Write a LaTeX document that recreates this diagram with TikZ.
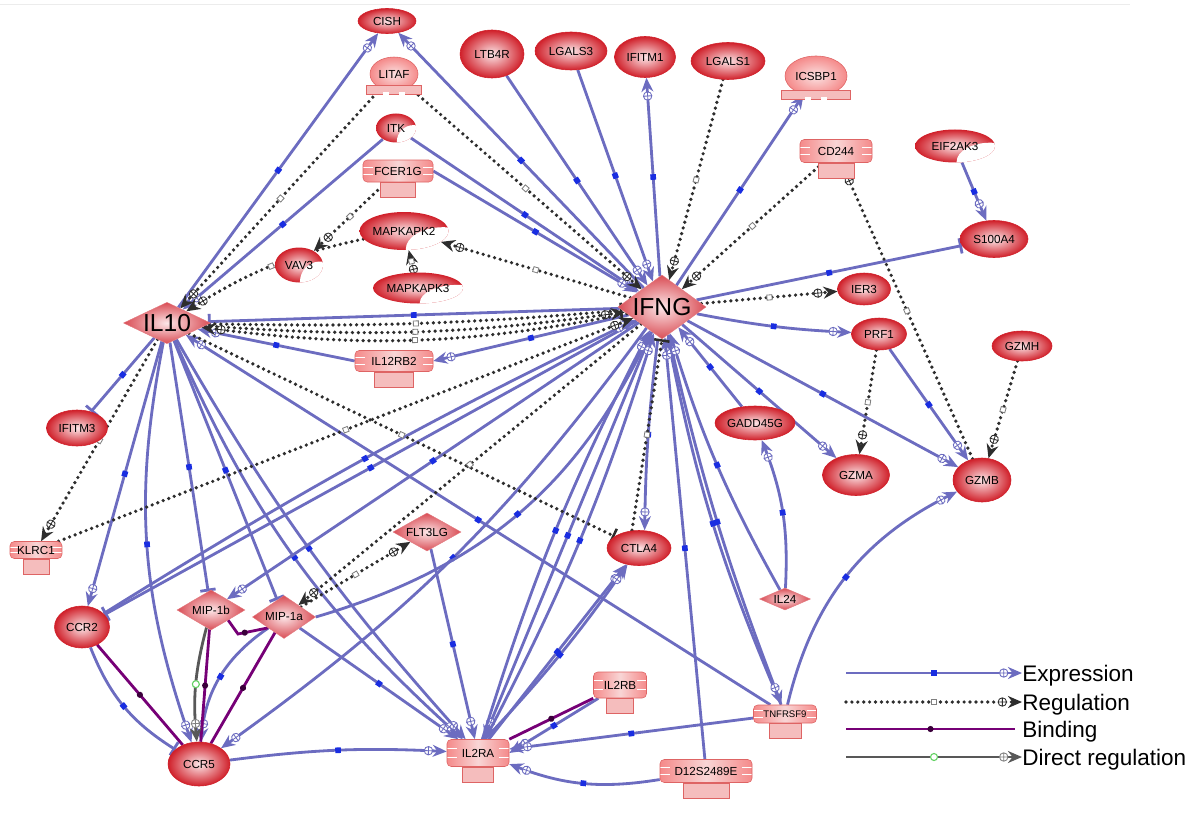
\documentclass[tikz,border=0pt]{standalone}
\usepackage{fontspec}
\setmainfont{Liberation Sans}
\usepackage{tikz}
\usetikzlibrary{shapes.geometric, arrows.meta, decorations.markings, backgrounds, calc}

\definecolor{genered}{RGB}{208,32,42}
\definecolor{genepink}{RGB}{252,230,232}
\definecolor{recpink}{RGB}{242,172,172}
\definecolor{recline}{RGB}{222,100,100}
\definecolor{expblue}{RGB}{108,108,192}
\definecolor{sqblue}{RGB}{25,45,225}
\definecolor{regdark}{RGB}{45,45,45}
\definecolor{bindpurple}{RGB}{118,0,118}
\definecolor{dirgray}{RGB}{88,88,88}
\definecolor{dirgreen}{RGB}{100,210,100}

% small marks sitting on the connectors
\newcommand{\sqexp}{\fill[sqblue] (-2pt,-2pt) rectangle (2pt,2pt);}
\newcommand{\sqreg}{\draw[-, solid, gray, line width=0.6pt, fill=white] (-1.8pt,-1.8pt) rectangle (1.8pt,1.8pt);}
\newcommand{\plusexp}{\draw[-, solid, expblue, line width=0.6pt, fill=white] (0,0) circle (3pt) (-3pt,0) -- (3pt,0) (0,-3pt) -- (0,3pt);}
\newcommand{\plusreg}{\draw[-, solid, regdark, line width=0.6pt, fill=white] (0,0) circle (3pt) (-3pt,0) -- (3pt,0) (0,-3pt) -- (0,3pt);}
\newcommand{\plusdir}{\draw[-, solid, gray, line width=0.6pt, fill=white] (0,0) circle (3pt) (-3pt,0) -- (3pt,0) (0,-3pt) -- (0,3pt);}
\newcommand{\dotbind}{\fill[bindpurple!50!black] (0,0) circle (2.2pt);}
\newcommand{\dotdir}{\draw[-, solid, dirgreen, line width=0.8pt, fill=white] (0,0) circle (2.5pt);}

\tikzset{sz/.style 2 args={minimum width=#1*0.025cm, minimum height=#2*0.025cm}}

\tikzstyle{gene} = [ellipse, inner sep=0pt, draw=genered, line width=0.4pt,
inner color=genepink, outer color=genered]
\tikzstyle{ligand} = [diamond, aspect=1.8, inner sep=0pt,
draw=genered!60, line width=0.3pt,
inner color=genepink, outer color=genered!80]
\tikzstyle{kinase} = [ellipse, inner sep=0pt,
inner color=genepink, outer color=genered,
path picture={\path[fill=white] let
  \p1=(path picture bounding box.south east),
  \p2=(path picture bounding box.north west) in
  ({\x1-0.06*(\x1-\x2)},{\y1+0.02*(\y2-\y1)})
  ellipse [x radius={0.42*(\x1-\x2)}, y radius={0.58*(\y2-\y1)}];}]
\tikzstyle{recep} = [rectangle, rounded corners=3pt, inner sep=0pt,
draw=recline, line width=0.4pt,
left color=recpink!80!red, right color=recpink!80!red, middle color=recpink!50!white,
path picture={\foreach \f in {0.33,0.67} {
  \draw[white, line width=0.7pt] ($(path picture bounding box.south west)!\f!(path picture bounding box.north west)$) -- ++(7pt,0);
  \draw[white, line width=0.7pt] ($(path picture bounding box.south east)!\f!(path picture bounding box.north east)$) -- ++(-7pt,0);}}]
\tikzstyle{recbase} = [draw=recline, line width=0.4pt, fill=recpink!80!white]
\tikzstyle{dome} = [ellipse, inner sep=0pt, draw=recline, line width=0.4pt,
inner color=recpink!35!white, outer color=recpink!80!red]
\tikzstyle{legtext} = [anchor=west, inner sep=0pt, text height=11.5pt, text depth=0pt,
font=\fontsize{16}{18}\selectfont]

\tikzstyle{expr} = [draw=expblue, line width=2pt, -{Stealth[length=10pt, width=8.5pt]},
postaction={decorate, decoration={markings,
  mark=at position 0.5 with {\sqexp},
  mark=at position -13pt with {\plusexp}}}]
\tikzstyle{exprbar} = [draw=expblue, line width=2pt, -{Bar[width=11pt]},
postaction={decorate, decoration={markings,
  mark=at position 0.5 with {\sqexp}}}]
\tikzstyle{reg} = [draw=regdark, line width=2.6pt, line cap=round, dash pattern=on 0pt off 4.2pt,
-{Stealth[length=10pt, width=8.5pt]},
postaction={decorate, decoration={markings,
  mark=at position 0.5 with {\sqreg},
  mark=at position -14pt with {\plusreg}}}]
\tikzstyle{regbar} = [draw=regdark, line width=2.6pt, line cap=round, dash pattern=on 0pt off 4.2pt,
-{Bar[width=11pt, line width=1.8pt]},
postaction={decorate, decoration={markings,
  mark=at position 0.5 with {\sqreg}}}]
\tikzstyle{bind} = [draw=bindpurple, line width=2pt,
postaction={decorate, decoration={markings,
  mark=at position 0.5 with {\dotbind}}}]
\tikzstyle{direct} = [draw=dirgray, line width=2pt, -{Stealth[length=10pt, width=8.5pt]},
postaction={decorate, decoration={markings,
  mark=at position 0.5 with {\dotdir},
  mark=at position -13pt with {\plusdir}}}]

\begin{document}
\begin{tikzpicture}[x=0.025cm, y=-0.025cm, font=\fontsize{8.3}{9}\selectfont]
\useasboundingbox (0,0) rectangle (1200,814);
\draw[gray!15, line width=0.6pt] (0,4) -- (1130,4);

% genes
\node (CISH) [gene, sz={58}{25}] at (387,21) {CISH};
\node (LITAF) [dome, sz={48}{34}] at (394,74) {LITAF};
\node (ITK) [kinase, sz={40}{29}] at (396,128) {ITK};
\node (FCER1G) [recep, sz={70}{22}] at (398,171) {FCER1G};
\node (MAPKAPK2) [kinase, sz={88}{38}] at (404,231) {MAPKAPK2};
\node (VAV3) [kinase, sz={48}{35}] at (299,265) {VAV3};
\node (MAPKAPK3) [kinase, sz={90}{31}] at (418,288) {MAPKAPK3};
\node (LTB4R) [gene, sz={64}{48}] at (492,54) {LTB4R};
\node (LGALS3) [gene, sz={72}{38}] at (571,51) {LGALS3};
\node (IFITM1) [gene, sz={61}{41}] at (645,57) {IFITM1};
\node (LGALS1) [gene, sz={74}{37}] at (728,61) {LGALS1};
\node (ICSBP1) [dome, sz={62}{40}] at (816,76) {ICSBP1};
\node (CD244) [recep, sz={72}{23}] at (836,151) {CD244};
\node (EIF2AK3) [kinase, sz={80}{33}] at (955,146) {EIF2AK3};
\node (S100A4) [gene, sz={68}{37}] at (994,239) {S100A4};
\node (IER3) [gene, sz={53}{32}] at (864,289) {IER3};
\node (PRF1) [gene, sz={55}{32}] at (879,334) {PRF1};
\node (GZMH) [gene, sz={60}{30}] at (1022,346) {GZMH};
\node (GADD45G) [gene, sz={80}{34}] at (755,423) {GADD45G};
\node (GZMA) [gene, sz={67}{41}] at (856,475) {GZMA};
\node (GZMB) [gene, sz={58}{44}] at (982,480) {GZMB};
\node (IFITM3) [gene, sz={61}{36}] at (77,428) {IFITM3};
\node (KLRC1) [recep, sz={52}{17}] at (36,550) {KLRC1};
\node (FLT3LG) [ligand, sz={68}{38}] at (427,532) {FLT3LG};
\node (CTLA4) [gene, sz={64}{35}] at (639,548) {CTLA4};
\node (IL24) [ligand, sz={51}{22}] at (785,599) {IL24};
\node (CCR2) [gene, sz={55}{42}] at (82,627) {CCR2};
\node (MIP1b) [ligand, sz={68}{40}] at (211,610) {MIP-1b};
\node (MIP1a) [ligand, sz={63}{43}] at (284,617) {MIP-1a};
\node (CCR5) [gene, sz={62}{44}] at (199,764) {CCR5};
\node (IL2RB) [recep, sz={53}{26}] at (620,685) {IL2RB};
\node (IL2RA) [recep, sz={62}{27}] at (478,753) {IL2RA};
\node (TNFRSF9) [recep, sz={63}{18}, font=\fontsize{6.8}{7}\selectfont] at (785,714) {TNFRSF9};
\node (D12S) [recep, sz={92}{23}] at (706,771) {D12S2489E};
\node (IL12RB2) [recep, sz={78}{21}] at (394,361) {IL12RB2};
\node (IL10) [ligand, sz={87}{40}, aspect=2, font=\fontsize{17.5}{18}\selectfont] at (167,323) {IL10};
\node (IFNG) [ligand, sz={88}{64}, aspect=1.4, font=\fontsize{17.5}{18}\selectfont] at (662,307) {IFNG};

% receptor stems and dome feet
\foreach \r in {FCER1G, CD244, IL12RB2, KLRC1, IL2RB, IL2RA, TNFRSF9, D12S}
  \draw[recbase] ($(\r.south west)!0.25!(\r.south east)$) rectangle ($(\r.south west)!0.75!(\r.south east)+(0,15)$);
\foreach \d in {LITAF, ICSBP1} {
  \draw[recbase] ($(\d.west |- \d.south)+(-3,-6)$) rectangle ($(\d.east |- \d.south)+(3,3)$);
  \fill[white] ($(\d.south)+(-11,3.6)$) rectangle ($(\d.south)+(-5,0.5)$);
  \fill[white] ($(\d.south)+(5,3.6)$) rectangle ($(\d.south)+(11,0.5)$);
}

% legend
\node (lgexpr) [legtext] at (1022,673) {Expression};
\node (lgreg) [legtext] at (1022,702) {Regulation};
\node (lgbind) [legtext] at (1022,729) {Binding};
\node (lgdir) [legtext] at (1022,757) {Direct regulation};
\coordinate (lgexprs) at (846,673);
\coordinate (lgregs) at (846,702);
\coordinate (lgbinds) at (846,729);
\coordinate (lgbinde) at (1015,729);
\coordinate (lgdirs) at (846,757);
\draw[expr] (lgexprs) -- (lgexpr.west);
\draw[reg] (lgregs) -- (lgreg.west);
\draw[bind] (lgbinds) -- (lgbinde);
\draw[direct] (lgdirs) -- (lgdir.west);

\begin{scope}[on background layer]
% expression
\draw[expr] (IL10) -- (CISH);
\draw[expr] (IFNG) -- (CISH);
\draw[expr] (ITK) -- (IL10);
\draw[expr] (ITK) -- (IFNG);
\draw[expr] (LTB4R) -- (IFNG);
\draw[expr] (LGALS3) -- (IFNG);
\draw[expr] (FCER1G.east) -- (IFNG);
\draw[expr] (IFNG) -- (IFITM1);
\draw[expr] (IFNG) -- (ICSBP1);
\draw[expr] (EIF2AK3) -- (S100A4);
\draw[exprbar] (IFNG) -- (S100A4);
\draw[expr] (IFNG) to[bend right=4] (PRF1);
\draw[expr] (IFNG) -- (GZMA);
\draw[expr] (IFNG) -- (GZMB);
\draw[expr] (PRF1) -- (GZMB);
\draw[expr] (IFNG) -- (IL12RB2.east);
\draw[expr] (IL12RB2.west) -- (IL10);
\draw[exprbar] (IFNG) -- (IL10);
\draw[exprbar] (IL10) -- (IFITM3);
\draw[exprbar] (IL10) -- (MIP1b);
\draw[exprbar] (IL10) -- (MIP1a);
\draw[expr] (IL10) -- (CCR2);
\draw[expr] (IL10) to[bend right=15] (CCR5);
\draw[expr] (IL10) to[bend right=6] (IL2RA);
\draw[expr] (IL10) to[bend right=12] (IL2RA);
\draw[expr] (TNFRSF9) -- (IL10);
\draw[expr] (IFNG) -- (MIP1b);
\draw[exprbar] (IFNG) -- (CCR2);
\draw[expr] (CCR2) to[bend left=3] (IFNG);
\draw[expr] (IFNG) to[bend left=9] (CCR5);
\draw[expr] (MIP1a.east) to[bend right=24] (IFNG);
\draw[expr] (MIP1a) -- (IL2RA);
\draw[expr] (MIP1a) to[bend right=25] (CCR5);
\draw[exprbar] (CCR2) to[bend right=18] (CCR5);
\draw[expr] (FLT3LG) -- (IL2RA);
\draw[expr] (CCR5) to[bend left=5] (IL2RA);
\draw[expr] (IFNG) -- (IL2RA);
\draw[expr] (IL2RA) to[bend left=5] (IFNG);
\draw[expr] (IL2RA) to[bend right=5] (IFNG);
\draw[expr] (IL2RA) -- (CTLA4);
\draw[expr] ([xshift=5pt]IL2RA.north) to[bend right=4] (CTLA4);
\draw[expr] (IL2RB) -- (IL2RA.east);
\draw[expr] (TNFRSF9) -- (IL2RA);
\draw[expr] (D12S) to[bend left=15] (IL2RA);
\draw[expr] (D12S) -- (IFNG);
\draw[expr] (TNFRSF9) to[bend left=6] (IFNG);
\draw[expr] (IFNG) to[bend right=4] (TNFRSF9);
\draw[expr] (TNFRSF9) to[bend left=25] (GZMB);
\draw[expr] (IL24) to[bend left=6] (IFNG);
\draw[expr] (IL24) to[bend right=12] (GADD45G);
\draw[expr] (GADD45G) -- (IFNG);
\draw[expr] ([xshift=-3pt]IFNG.south) to[bend right=3] ([xshift=4pt]CTLA4.north);
% regulation
\draw[reg] (LITAF) -- (IL10);
\draw[reg] (LITAF) -- (IFNG);
\draw[reg] (LGALS1) -- (IFNG);
\draw[reg] (CD244) -- (IFNG);
\draw[reg] (FCER1G) -- (VAV3);
\draw[reg] (MAPKAPK3) -- (MAPKAPK2);
\draw[reg] (IFNG) -- (MAPKAPK2);
\draw[reg] (MAPKAPK2) to[bend right=10] (IL10);
\draw[reg] (IFNG) -- (IER3);
\draw[reg] (PRF1) -- (GZMA);
\draw[reg] (GZMH) -- (GZMB);
\draw[reg] (GZMB) -- (CD244);
\draw[reg] (IL10) -- (KLRC1);
\draw[reg] (KLRC1) -- (IFNG);
\draw[regbar] (IL10) to[bend right=3] (IFNG);
\draw[reg] (IL10) to[bend right=6] (IFNG);
\draw[reg] (IFNG) to[bend left=9] (IL10);
\draw[regbar] (IL10) -- (CTLA4);
\draw[regbar] ([xshift=-5pt]CTLA4.north) -- (IFNG.south);
\draw[reg] (IFNG) -- (MIP1a);
\draw[reg] (MIP1a) -- (FLT3LG);
% binding
\coordinate (bmid) at (238,634);
\draw[bind] (MIP1b.south east) -- (bmid) -- (MIP1a.south west);
\draw[bind] (MIP1b) -- (CCR5);
\draw[bind] (MIP1a) -- (CCR5);
\draw[bind] (CCR2) -- (CCR5);
\draw[bind] (IL2RB.south west) -- (IL2RA.north east);
% direct regulation
\draw[direct] (MIP1b) to[bend right=10] (CCR5);
\end{scope}
\end{tikzpicture}
\end{document}
